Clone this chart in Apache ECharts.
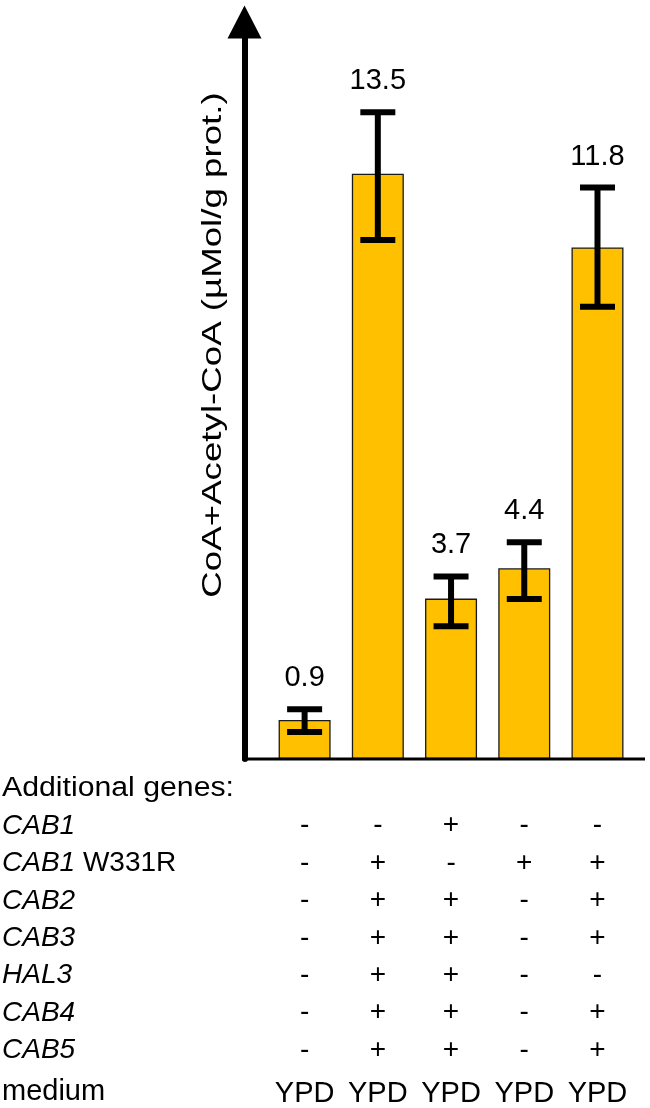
<!DOCTYPE html>
<html>
<head>
<meta charset="utf-8">
<style>
  html, body { margin: 0; padding: 0; background: #fff; }
  #chart { width: 650px; height: 1108px; }
</style>
<script src="https://cdn.jsdelivr.net/npm/echarts@6/dist/echarts.min.js"></script>
</head>
<body>
<div id="chart"></div>
<script>
// ---- data ----
var strains = ['1', '2', '3', '4', '5'];
var values = [0.9, 13.5, 3.7, 4.4, 11.8];
var valueLabels = ['0.9', '13.5', '3.7', '4.4', '11.8'];
var errLow = [0.62, 11.97, 3.06, 3.69, 10.43];
var errHigh = [1.15, 14.92, 4.21, 5.0, 13.18];
var geneNames = ['CAB1', 'CAB1 W331R', 'CAB2', 'CAB3', 'HAL3', 'CAB4', 'CAB5'];
var genePresence = [
  ['-', '-', '+', '-', '-'],   // CAB1
  ['-', '+', '-', '+', '+'],   // CAB1 W331R
  ['-', '+', '+', '-', '+'],   // CAB2
  ['-', '+', '+', '-', '+'],   // CAB3
  ['-', '+', '+', '-', '-'],   // HAL3
  ['-', '+', '+', '-', '+'],   // CAB4
  ['-', '+', '+', '-', '+']    // CAB5
];
var medium = ['YPD', 'YPD', 'YPD', 'YPD', 'YPD'];
var yTitle = 'CoA+Acetyl-CoA (\u00b5Mol/g prot.)';

// ---- chart ----
var FONT = '"Liberation Sans", Arial, sans-serif';
var chart = echarts.init(document.getElementById('chart'), null, { renderer: 'canvas' });

var errData = strains.map(function (s, i) { return [i, errLow[i], errHigh[i], i]; });

var rowY0 = 826, rowStep = 37.4;
var leftTexts = [];
leftTexts.push({
  type: 'text', x: 2, y: 789, scaleX: 1.12,
  style: { text: 'Additional genes:', font: '27px ' + FONT, fill: '#000', align: 'left', verticalAlign: 'middle' }
});
geneNames.forEach(function (g, k) {
  var parts = g.split(' ');
  var txt = '{i|' + parts[0] + '}' + (parts.length > 1 ? ' ' + parts.slice(1).join(' ') : '');
  leftTexts.push({
    type: 'text', x: 2, y: rowY0 + k * rowStep,
    style: {
      text: txt, font: '28px ' + FONT, fill: '#000', align: 'left', verticalAlign: 'middle',
      rich: { i: { fontStyle: 'italic', fontSize: 28, fontFamily: FONT, fill: '#000' } }
    }
  });
});
leftTexts.push({
  type: 'text', x: 2, y: 1092,
  style: { text: 'medium', font: '29px ' + FONT, fill: '#000', align: 'left', verticalAlign: 'middle' }
});

var option = {
  backgroundColor: '#fff',
  animation: false,
  grid: { left: 268, right: 15.9, top: 22, bottom: 349, containLabel: false, outerBoundsMode: 'none' },
  xAxis: {
    type: 'category',
    data: strains,
    axisLine: { show: false },
    axisTick: { show: false },
    axisLabel: {
      interval: 0,
      margin: 48,
      fontSize: 28,
      fontFamily: FONT,
      color: '#000',
      lineHeight: rowStep,
      formatter: function (v, idx) {
        var lines = genePresence.map(function (row) { return row[idx]; });
        return lines.join('\n') + '\n{m|' + medium[idx] + '}';
      },
      rich: { m: { fontSize: 29, fontFamily: FONT, color: '#000', lineHeight: 50 } }
    }
  },
  yAxis: {
    type: 'value',
    min: 0,
    max: 17,
    offset: 23.5,
    axisLine: {
      show: true,
      symbol: ['none', 'triangle'],
      symbolSize: [34, 33],
      lineStyle: { color: '#000', width: 6 }
    },
    axisTick: { show: false },
    axisLabel: { show: false },
    splitLine: { show: false }
  },
  graphic: [
    {
      type: 'line', z: 100,
      shape: { x1: 242, y1: 759, x2: 645, y2: 759 },
      style: { stroke: '#000', lineWidth: 3 }
    },
    {
      type: 'text', x: 213, y: 345, rotation: Math.PI / 2, scaleX: 1.31,
      style: { text: yTitle, font: '28px ' + FONT, fill: '#000', align: 'center', verticalAlign: 'middle' }
    }
  ].concat(leftTexts),
  series: [
    {
      type: 'bar',
      data: values,
      barWidth: 52,
      itemStyle: { color: '#FFC000', borderColor: '#1a1a1a', borderWidth: 1.3 }
    },
    {
      type: 'custom',
      data: errData,
      encode: { x: 0, y: [1, 2] },
      z: 10,
      renderItem: function (params, api) {
        var idx = api.value(0);
        var pLo = api.coord([idx, api.value(1)]);
        var pHi = api.coord([idx, api.value(2)]);
        var x = pLo[0];
        var hw = 17.5;
        var st = { stroke: '#000', lineWidth: 6 };
        return {
          type: 'group',
          children: [
            { type: 'line', shape: { x1: x, y1: pLo[1], x2: x, y2: pHi[1] }, style: st },
            { type: 'line', shape: { x1: x - hw, y1: pHi[1], x2: x + hw, y2: pHi[1] }, style: st },
            { type: 'line', shape: { x1: x - hw, y1: pLo[1], x2: x + hw, y2: pLo[1] }, style: st },
            {
              type: 'text', x: x, y: pHi[1] - 31,
              style: { text: valueLabels[api.value(3)], font: '29px ' + FONT, fill: '#000', align: 'center', verticalAlign: 'middle' }
            }
          ]
        };
      }
    }
  ]
};
chart.setOption(option);
</script>
</body>
</html>
